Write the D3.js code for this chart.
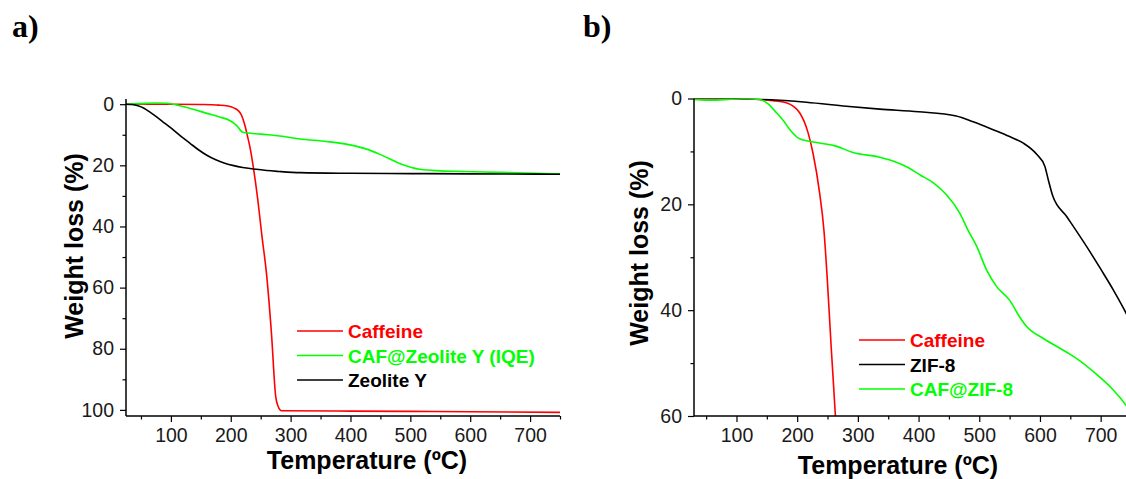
<!DOCTYPE html>
<html>
<head>
<meta charset="utf-8">
<script src="https://cdn.jsdelivr.net/npm/d3@7"></script>
<style>
  html, body { margin: 0; padding: 0; background: #fff; }
  svg { display: block; }
  text { font-family: "Liberation Sans", Arial, sans-serif; }
</style>
</head>
<body>
<svg id="chart" width="1126" height="479"></svg>
<script>
// ---------- Data: panel a ----------
const aCaffeine = [[25,0],[100,0],[150,0.1],[180,0.3],[195,0.6],[205,1.2],[212,2],[218,3.6],[223,6.5],[228,10.5],[233,15],[238,21],[245,31],[252,43],[260,56],[268,75],[275,95.5],[279,98.8],[285,100.3],[400,100.4],[500,100.5],[600,100.6],[750,100.8]];
const aCafZeolite = [[25,0],[50,-0.2],[75,-0.4],[93,-0.3],[115,0.5],[140,1.8],[160,3],[180,4.1],[199,5.4],[210,7],[220,9.2],[250,9.8],[282,10.4],[316,11.4],[360,12.2],[399,13.3],[427,14.7],[450,16.5],[466,17.9],[480,19.2],[494,20.2],[516,21.3],[550,21.8],[588,22.0],[650,22.3],[750,22.8]];
const aZeolite = [[25,0],[35,0.1],[45,0.5],[55,1.3],[65,2.6],[75,4],[90,6.3],[104,8.4],[118,10.7],[132,12.8],[146,14.9],[160,16.7],[175,18.2],[190,19.3],[205,20.1],[220,20.7],[238,21.2],[260,21.7],[280,22],[316,22.4],[400,22.6],[500,22.7],[600,22.8],[750,22.9]];
const aLegend = ["Caffeine", "CAF@Zeolite Y (IQE)", "Zeolite Y"];

// ---------- Data: panel b ----------
const bCaffeine = [[30,0],[100,0.05],[138,0.2],[160,0.4],[182,0.8],[204,2.7],[218,6.5],[226,10.3],[237,17.9],[244,24.8],[249,33],[256,46.9],[263,60],[270,75],[285,100]];
const bZif8 = [[30,0],[100,0.05],[150,0.2],[215,0.7],[281,1.45],[336,2.0],[400,2.5],[462,3.3],[490,4.4],[523,5.9],[550,7.2],[572,8.4],[595,10.6],[608,12.8],[614,15.5],[621,18.4],[644,22.3],[677,28],[701,32.4],[721,36.2],[742,40.6],[750,42.5]];
const bCafZif8 = [[30,0.2],[50,0.3],[67,0.3],[90,0.15],[116,0.05],[138,0.2],[152,1],[166,2.7],[178,4.3],[188,5.9],[204,7.6],[237,8.4],[264,9.0],[292,10.2],[336,11.1],[360,11.9],[382,13.0],[402,14.4],[425,16],[446,18.2],[468,21.7],[482,25],[496,28],[512,32.4],[529,35.6],[550,38.1],[565,41],[578,43.1],[605,45.3],[633,47.2],[660,49.1],[698,52.6],[720,55],[742,58],[750,59.3]];
const bLegend = ["Caffeine", "ZIF-8", "CAF@ZIF-8"];

// ---------- Tick labels ----------
const xTicksMajor = [100, 200, 300, 400, 500, 600, 700];
const xTicksMinor = [50, 150, 250, 350, 450, 550, 650, 750];
const aYTicksMajor = [0, 20, 40, 60, 80, 100];
const aYTicksMinor = [10, 30, 50, 70, 90];
const bYTicksMajor = [0, 20, 40, 60];
const bYTicksMinor = [10, 30, 50];

const RED = "#ff0000", GREEN = "#00ff00", BLACK = "#000000";

const svg = d3.select("#chart");

function panel(cfg) {
  const g = svg.append("g");
  const x = d3.scaleLinear().domain(cfg.xDomain).range(cfg.xRange);
  const y = d3.scaleLinear().domain(cfg.yDomain).range(cfg.yRange);

  const clipId = "clip-" + cfg.id;
  svg.append("clipPath").attr("id", clipId).append("rect")
    .attr("x", cfg.xRange[0]).attr("y", cfg.yRange[0])
    .attr("width", cfg.xRange[1] - cfg.xRange[0])
    .attr("height", cfg.yRange[1] - cfg.yRange[0]);

  const line = d3.line().x(d => x(d[0])).y(d => y(d[1])).curve(d3.curveMonotoneX);
  const plot = g.append("g").attr("clip-path", `url(#${clipId})`);
  cfg.series.forEach(s => {
    plot.append("path").datum(s.data)
      .attr("fill", "none").attr("stroke", s.color).attr("stroke-width", 1.6)
      .attr("stroke-linejoin", "round").attr("d", line);
  });

  // x axis
  const xAxisY = cfg.yRange[1];
  const xa = g.append("g").attr("transform", `translate(0,${xAxisY})`)
    .call(d3.axisBottom(x).tickValues(xTicksMajor).tickSize(6).tickPadding(6).tickFormat(d3.format("d")));
  const xm = g.append("g").attr("transform", `translate(0,${xAxisY})`)
    .call(d3.axisBottom(x).tickValues(xTicksMinor.filter(v => v >= cfg.xDomain[0] && v <= cfg.xDomain[1])).tickSize(3.5).tickFormat(""));
  // y axis
  const ya = g.append("g").attr("transform", `translate(${cfg.xRange[0]},0)`)
    .call(d3.axisLeft(y).tickValues(cfg.yMajor).tickSize(6).tickPadding(6).tickFormat(d3.format("d")));
  const ym = g.append("g").attr("transform", `translate(${cfg.xRange[0]},0)`)
    .call(d3.axisLeft(y).tickValues(cfg.yMinor).tickSize(3.5).tickFormat(""));

  [xa, xm, ya, ym].forEach(a => {
    a.select(".domain").attr("stroke", "#000").attr("stroke-width", 1.5);
    a.selectAll(".tick line").attr("stroke", "#000").attr("stroke-width", 1.2);
    a.selectAll(".tick text").attr("font-size", 19.5).attr("fill", "#1a1a1a")
      .style("font-family", '"Liberation Sans", Arial, sans-serif');
  });
  xa.select(".domain").attr("d", `M${cfg.xRange[0]},0H${cfg.xRange[1]}`);
  xm.select(".domain").remove();
  ya.select(".domain").attr("d", `M0,${cfg.yRange[0]}V${cfg.yRange[1]}`);
  ym.select(".domain").remove();

  // axis titles
  g.append("text").attr("x", cfg.xTitle[0]).attr("y", cfg.xTitle[1])
    .attr("text-anchor", "middle").attr("font-weight", "bold").attr("font-size", 25)
    .text("Temperature (ºC)");
  g.append("text").attr("transform", `translate(${cfg.yTitle[0]},${cfg.yTitle[1]}) rotate(-90)`)
    .attr("text-anchor", "middle").attr("font-weight", "bold").attr("font-size", 25)
    .text("Weight loss (%)");

  // panel label
  g.append("text").attr("x", cfg.label[0]).attr("y", cfg.label[1])
    .style("font-family", '"Liberation Serif", "Times New Roman", serif')
    .attr("font-weight", "bold").attr("font-size", 32).text(cfg.labelText);

  // legend
  const lg = g.append("g");
  cfg.legend.forEach((name, i) => {
    const s = cfg.series.find(d => d.name === name);
    const ly = cfg.legendPos[1] + i * cfg.legendStep;
    lg.append("line").attr("x1", cfg.legendPos[0]).attr("x2", cfg.legendPos[0] + 46)
      .attr("y1", ly).attr("y2", ly).attr("stroke", s.color).attr("stroke-width", 1.6);
    lg.append("text").attr("x", cfg.legendPos[0] + 51).attr("y", ly + 7)
      .attr("font-weight", "bold").attr("font-size", 19).attr("fill", s.color).text(name);
  });
}

panel({
  id: "a",
  xDomain: [25, 750], xRange: [126, 560],
  yDomain: [-1.7, 102], yRange: [99, 416],
  yMajor: aYTicksMajor, yMinor: aYTicksMinor,
  series: [
    { name: "Caffeine", data: aCaffeine, color: RED },
    { name: "CAF@Zeolite Y (IQE)", data: aCafZeolite, color: GREEN },
    { name: "Zeolite Y", data: aZeolite, color: BLACK }
  ],
  legend: aLegend, legendPos: [297, 331], legendStep: 24.5,
  xTitle: [367, 469], yTitle: [83, 246],
  label: [12, 37], labelText: "a)"
});

panel({
  id: "b",
  xDomain: [30, 750], xRange: [694, 1131],
  yDomain: [0, 60], yRange: [98.5, 416],
  yMajor: bYTicksMajor, yMinor: bYTicksMinor,
  series: [
    { name: "Caffeine", data: bCaffeine, color: RED },
    { name: "ZIF-8", data: bZif8, color: BLACK },
    { name: "CAF@ZIF-8", data: bCafZif8, color: GREEN }
  ],
  legend: bLegend, legendPos: [859, 340], legendStep: 24.5,
  xTitle: [898, 474], yTitle: [648, 253],
  label: [583, 37], labelText: "b)"
});
</script>
</body>
</html>
